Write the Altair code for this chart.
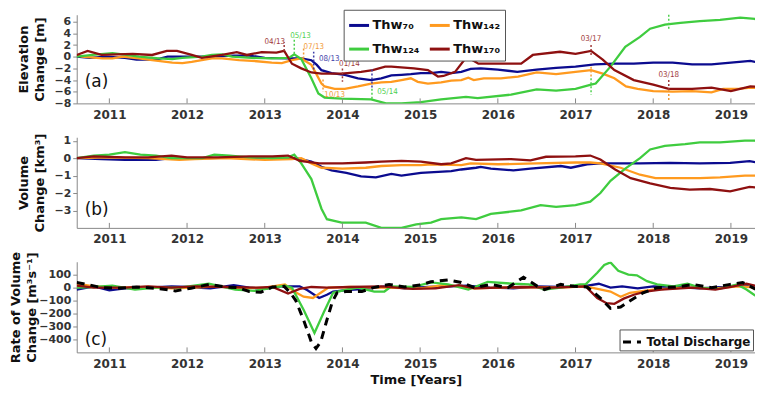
import altair as alt
import pandas as pd

SERIES = ["Thw₇₀", "Thw₁₂₄", "Thw₁₄₂", "Thw₁₇₀"]
COLORS = ["#0b0b8f", "#3fcc3f", "#ff9a1f", "#8e1010"]
ANN_COLORS = ["#3c3ca8", "#4fd04f", "#f29a35", "#a03a3a"]
YEARS = [2011, 2012, 2013, 2014, 2015, 2016, 2017, 2018, 2019]
XDOM = [2010.58, 2019.31]
FONT = "DejaVu Sans"

# ---------------- panel (a): elevation change [m] ----------------
a70_t = [2010.58, 2010.75, 2010.95, 2011.2, 2011.35, 2011.6, 2011.75, 2012.0, 2012.3, 2012.6, 2012.8, 2013.0, 2013.3, 2013.47, 2013.6, 2013.67, 2013.73, 2013.86, 2014.03, 2014.2, 2014.37, 2014.5, 2014.63, 2014.76, 2014.88, 2015.01, 2015.14, 2015.27, 2015.4, 2015.53, 2015.65, 2015.78, 2016.0, 2016.25, 2016.5, 2016.75, 2017.0, 2017.25, 2017.5, 2017.75, 2018.0, 2018.25, 2018.5, 2018.75, 2019.0, 2019.25, 2019.41]
a70_v = [0.0, -0.2, 0.0, -0.2, -0.5, -0.5, 0.0, 0.0, 0.0, 0.2, 0.2, -0.2, -0.3, -0.3, -0.6, -1.4, -2.3, -2.8, -3.1, -3.7, -4.0, -3.7, -3.2, -3.1, -3.0, -2.8, -2.8, -2.6, -2.8, -2.6, -2.1, -2.0, -2.2, -2.6, -2.2, -1.9, -1.7, -1.3, -1.2, -1.2, -1.0, -1.0, -1.3, -1.3, -1.0, -0.7, -1.2]

a142_t = [2010.58, 2010.65, 2010.91, 2011.04, 2011.17, 2011.38, 2011.55, 2011.81, 2011.94, 2012.06, 2012.32, 2012.45, 2012.67, 2012.83, 2013.09, 2013.22, 2013.35, 2013.47, 2013.6, 2013.73, 2013.77, 2013.9, 2014.03, 2014.2, 2014.37, 2014.5, 2014.63, 2014.76, 2014.88, 2014.97, 2015.1, 2015.27, 2015.4, 2015.53, 2015.62, 2015.69, 2015.82, 2016.04, 2016.26, 2016.5, 2016.75, 2017.0, 2017.2, 2017.35, 2017.5, 2017.65, 2017.8, 2018.0, 2018.25, 2018.5, 2018.75, 2018.9, 2019.1, 2019.25, 2019.41]
a142_v = [0.3, 0.0, -0.3, -0.3, 0.0, -0.3, -0.6, -1.0, -1.1, -0.9, -0.3, -0.3, -0.6, -0.7, -1.0, -1.1, -0.6, -0.3, -1.4, -4.6, -5.1, -5.5, -5.5, -5.1, -4.6, -4.4, -4.3, -4.0, -3.7, -4.3, -4.6, -4.4, -4.1, -4.0, -3.6, -4.0, -3.7, -3.7, -3.4, -2.7, -3.0, -2.6, -2.3, -2.9, -3.7, -5.1, -5.5, -5.9, -6.0, -5.9, -6.1, -5.5, -5.5, -5.3, -5.4]

a124_t = [2010.58, 2010.78, 2011.04, 2011.17, 2011.38, 2011.64, 2011.81, 2011.94, 2012.19, 2012.32, 2012.45, 2012.58, 2012.83, 2013.09, 2013.31, 2013.38, 2013.47, 2013.6, 2013.69, 2013.77, 2013.99, 2014.37, 2014.56, 2014.76, 2015.01, 2015.27, 2015.59, 2015.74, 2016.17, 2016.5, 2016.75, 2017.0, 2017.2, 2017.26, 2017.45, 2017.64, 2017.83, 2017.96, 2018.15, 2018.35, 2018.6, 2018.86, 2019.12, 2019.31, 2019.41]
a124_v = [0.0, 0.3, 0.6, 0.4, 0.0, -0.3, -0.4, -0.2, 0.0, 0.3, 0.4, 0.0, -0.2, -0.3, -0.2, 0.4, -0.4, -3.7, -6.3, -7.0, -7.2, -7.3, -8.0, -8.0, -7.8, -7.3, -6.9, -7.1, -6.5, -5.6, -5.8, -5.5, -4.8, -4.6, -1.7, 1.7, 3.4, 4.8, 5.5, 5.8, 6.1, 6.3, 6.7, 6.5, 5.1]

a170_t = [2010.58, 2010.72, 2010.9, 2011.3, 2011.55, 2011.74, 2011.87, 2012.06, 2012.19, 2012.45, 2012.64, 2012.77, 2012.96, 2013.15, 2013.25, 2013.35, 2013.47, 2013.6, 2013.73, 2013.99, 2014.24, 2014.39, 2014.55, 2014.63, 2014.92, 2015.1, 2015.23, 2015.3, 2015.45, 2015.6, 2015.75, 2016.0, 2016.3, 2016.45, 2016.8, 2017.0, 2017.2, 2017.35, 2017.5, 2017.75, 2018.0, 2018.2, 2018.5, 2018.75, 2019.0, 2019.25, 2019.41]
a170_v = [0.3, 1.0, 0.3, 0.5, 0.3, 1.0, 1.0, 0.3, -0.2, 0.3, 0.8, 0.3, 0.8, 0.7, 1.0, -1.2, -2.0, -2.7, -2.9, -2.9, -2.6, -2.3, -1.7, -1.7, -2.0, -2.3, -3.4, -3.3, -2.6, 0.0, -1.2, -1.2, -1.2, 0.3, 0.85, 0.5, 1.0, -0.5, -2.3, -4.0, -4.8, -5.5, -5.5, -5.3, -5.9, -5.1, -5.2]

# ---------------- panel (b): volume change [km3] ----------------
b70_t = [2010.58, 2010.9, 2011.2, 2011.6, 2011.8, 2012.3, 2012.7, 2013.0, 2013.4, 2013.6, 2013.73, 2013.86, 2014.05, 2014.24, 2014.43, 2014.63, 2014.76, 2015.01, 2015.4, 2015.53, 2015.72, 2015.78, 2015.91, 2016.2, 2016.42, 2016.81, 2016.94, 2017.15, 2017.32, 2017.83, 2018.22, 2018.6, 2018.99, 2019.24, 2019.41]
b70_v = [0.0, -0.05, -0.1, -0.1, 0.0, 0.0, 0.05, 0.0, 0.0, -0.2, -0.5, -0.7, -0.85, -1.05, -1.1, -0.9, -1.0, -0.85, -0.75, -0.65, -0.55, -0.5, -0.6, -0.7, -0.6, -0.45, -0.55, -0.35, -0.3, -0.3, -0.27, -0.3, -0.27, -0.17, -0.3]

b142_t = [2010.58, 2011.0, 2011.5, 2011.9, 2012.1, 2012.5, 2013.0, 2013.35, 2013.47, 2013.6, 2013.73, 2014.0, 2014.3, 2014.5, 2014.76, 2015.01, 2015.14, 2015.53, 2015.65, 2016.0, 2016.5, 2017.0, 2017.19, 2017.32, 2017.58, 2017.83, 2018.03, 2018.35, 2018.6, 2018.86, 2019.18, 2019.41]
b142_v = [0.0, 0.05, 0.0, -0.1, -0.05, 0.0, -0.1, -0.05, 0.0, -0.3, -0.55, -0.6, -0.55, -0.45, -0.4, -0.4, -0.35, -0.4, -0.3, -0.35, -0.3, -0.25, -0.25, -0.3, -0.55, -0.95, -1.15, -1.15, -1.15, -1.1, -1.0, -1.0]

b124_t = [2010.58, 2010.8, 2011.0, 2011.2, 2011.4, 2011.6, 2011.8, 2012.2, 2012.35, 2012.55, 2012.8, 2013.1, 2013.3, 2013.38, 2013.47, 2013.6, 2013.73, 2013.8, 2013.99, 2014.3, 2014.5, 2014.76, 2014.95, 2015.14, 2015.27, 2015.53, 2015.72, 2015.91, 2016.3, 2016.55, 2016.75, 2017.0, 2017.19, 2017.32, 2017.45, 2017.64, 2017.83, 2017.96, 2018.15, 2018.41, 2018.6, 2018.86, 2019.18, 2019.31, 2019.41]
b124_v = [0.0, 0.15, 0.2, 0.35, 0.2, 0.15, 0.0, 0.0, 0.2, 0.15, 0.05, 0.0, 0.05, 0.2, -0.3, -1.2, -2.9, -3.5, -3.7, -3.7, -4.0, -4.0, -3.8, -3.7, -3.5, -3.4, -3.5, -3.2, -3.0, -2.7, -2.8, -2.7, -2.5, -2.0, -1.3, -0.6, 0.0, 0.5, 0.7, 0.8, 0.9, 0.9, 1.0, 1.0, 0.8]

b170_t = [2010.58, 2010.8, 2011.2, 2011.5, 2011.8, 2012.0, 2012.4, 2012.8, 2013.1, 2013.3, 2013.45, 2013.7, 2014.0, 2014.3, 2014.5, 2014.76, 2015.01, 2015.27, 2015.4, 2015.59, 2015.72, 2016.17, 2016.42, 2016.62, 2017.0, 2017.19, 2017.32, 2017.51, 2017.71, 2017.96, 2018.22, 2018.47, 2018.73, 2018.99, 2019.24, 2019.41]
b170_v = [0.0, 0.1, 0.05, 0.05, 0.15, 0.05, 0.05, 0.1, 0.1, 0.15, -0.15, -0.3, -0.3, -0.25, -0.2, -0.15, -0.2, -0.35, -0.3, 0.0, -0.1, -0.05, -0.13, 0.08, 0.1, 0.15, -0.08, -0.65, -1.15, -1.45, -1.7, -1.8, -1.77, -1.9, -1.65, -1.7]

# ---------------- panel (c): rate of volume change [m3/s] ----------------
c70_t = [2010.58, 2010.8, 2011.0, 2011.2, 2011.5, 2011.8, 2012.0, 2012.3, 2012.6, 2012.8, 2013.0, 2013.2, 2013.45, 2013.55, 2013.7, 2013.8, 2013.88, 2014.05, 2014.3, 2014.55, 2014.8, 2015.1, 2015.4, 2015.6, 2015.9, 2016.2, 2016.5, 2016.8, 2017.1, 2017.3, 2017.45, 2017.6, 2017.8, 2018.0, 2018.3, 2018.6, 2018.9, 2019.15, 2019.3, 2019.41]
c70_v = [-15, 10, -20, -5, 0, 10, 5, -5, 20, 0, -10, 10, 10, -20, -80, -55, -30, -20, -10, 10, -5, 5, 10, 15, 0, -5, 10, 5, 10, 30, 0, 10, -5, 10, 5, -5, 5, 20, 0, -15]

c142_t = [2010.58, 2010.8, 2011.1, 2011.5, 2011.8, 2012.1, 2012.4, 2012.7, 2013.0, 2013.26, 2013.38, 2013.5, 2013.62, 2013.72, 2013.82, 2014.1, 2014.5, 2015.0, 2015.3, 2015.5, 2015.7, 2016.0, 2016.4, 2016.8, 2017.13, 2017.45, 2017.58, 2017.7, 2018.0, 2018.4, 2018.8, 2019.1, 2019.25, 2019.41]
c142_v = [30, 10, 0, 5, -5, 0, 10, -5, 0, 25, -30, -70, -80, -40, 0, 5, 0, -5, 20, 10, -5, 0, 5, 0, 10, -30, -70, -40, -15, 0, -5, 10, 5, -30]

c124_t = [2010.58, 2010.8, 2011.04, 2011.33, 2011.6, 2011.9, 2012.28, 2012.62, 2012.87, 2013.26, 2013.35, 2013.5, 2013.64, 2013.76, 2013.88, 2014.05, 2014.2, 2014.41, 2014.54, 2014.63, 2014.9, 2015.14, 2015.36, 2015.62, 2015.87, 2016.2, 2016.4, 2016.6, 2016.81, 2017.06, 2017.13, 2017.28, 2017.37, 2017.45, 2017.55, 2017.68, 2017.79, 2017.92, 2018.05, 2018.26, 2018.44, 2018.6, 2018.85, 2019.08, 2019.2, 2019.31, 2019.41]
c124_v = [0, 5, 15, -15, 0, 0, 30, -15, -25, 15, 0, -170, -350, -190, -40, -15, 0, -30, -30, 10, 5, 40, 25, -15, 45, 30, 25, -15, 0, 25, 25, 115, 175, 195, 130, 100, 95, 50, 25, 10, 30, 0, -10, 25, -15, -60, -70]

c170_t = [2010.58, 2010.8, 2011.2, 2011.5, 2011.8, 2012.1, 2012.5, 2012.9, 2013.1, 2013.3, 2013.45, 2013.6, 2013.8, 2014.1, 2014.5, 2014.9, 2015.2, 2015.5, 2015.7, 2016.0, 2016.3, 2016.7, 2017.13, 2017.28, 2017.4, 2017.5, 2017.62, 2017.75, 2017.9, 2018.1, 2018.5, 2018.8, 2019.0, 2019.2, 2019.41]
c170_v = [15, 0, 0, 10, 0, 10, 5, 0, 5, -45, -10, 5, 0, 5, 10, -10, -5, 20, -5, 0, 5, 0, 10, -80, -120, -125, -85, -55, -30, -15, 0, -15, 5, 30, 0]

dis_t = [2010.58, 2010.75, 2010.9, 2011.1, 2011.35, 2011.6, 2011.85, 2012.05, 2012.28, 2012.5, 2012.65, 2012.8, 2012.95, 2013.1, 2013.25, 2013.33, 2013.4, 2013.5, 2013.6, 2013.66, 2013.72, 2013.8, 2013.87, 2013.93, 2014.05, 2014.25, 2014.4, 2014.6, 2014.8, 2015.0, 2015.14, 2015.36, 2015.53, 2015.7, 2015.91, 2016.13, 2016.33, 2016.51, 2016.6, 2016.81, 2016.98, 2017.15, 2017.32, 2017.45, 2017.58, 2017.68, 2017.87, 2018.05, 2018.3, 2018.51, 2018.75, 2018.99, 2019.15, 2019.28, 2019.41]
dis_v = [40, 20, 0, -5, 5, -5, -25, -5, 25, 5, 0, -30, -35, 5, 10, -40, -100, -250, -420, -470, -420, -250, -110, -40, -30, -30, 0, 25, 5, 20, 45, 60, 40, 0, 25, 0, 80, 10, -15, 25, 10, 5, -80, -160, -150, -110, -40, 0, 5, 25, 0, 25, 40, 0, -40]
DIS_NAME = ["Total Discharge"]

# ---------------- annotations on panel (a) ----------------
seg_t = [2013.25, 2013.38, 2013.5, 2013.63, 2014.0, 2013.75, 2014.38, 2014.38, 2017.2, 2017.2, 2017.2, 2018.2, 2018.2, 2018.2]
seg_v1 = [1.0, 0.5, -0.3, -2.2, -2.0, -3.9, -2.2, -5.5, 2.0, -1.7, -3.7, -4.0, -5.7, 4.8]
seg_v2 = [2.5, 3.3, 1.5, 0.85, -4.3, -6.0, -5.3, -7.5, 0.0, -3.4, -6.5, -5.7, -7.7, 7.2]
seg_s = ["Thw₁₇₀", "Thw₁₂₄", "Thw₁₄₂", "Thw₇₀", "Thw₁₇₀", "Thw₁₄₂", "Thw₇₀", "Thw₁₂₄", "Thw₁₇₀", "Thw₁₄₂", "Thw₁₂₄", "Thw₁₇₀", "Thw₁₄₂", "Thw₁₂₄"]

lab_text = ["04/13", "05/13", "07/13", "08/13", "01/14", "10/13", "05/14", "03/17", "03/18"]
lab_t = [2013.13, 2013.46, 2013.63, 2013.83, 2014.09, 2013.9, 2014.58, 2017.2, 2018.2]
lab_v = [2.56, 3.6, 1.7, -0.34, -1.2, -6.5, -6.1, 3.1, -3.1]
lab_s = ["Thw₁₇₀", "Thw₁₂₄", "Thw₁₄₂", "Thw₇₀", "Thw₁₇₀", "Thw₁₄₂", "Thw₁₂₄", "Thw₁₇₀", "Thw₁₇₀"]

PANEL_LABELS = ["(a)", "(b)", "(c)"]


def long_df(pairs):
    rows = []
    for name, ts, vs in pairs:
        for t, v in zip(ts, vs):
            rows.append({"series": name, "year": t, "value": v})
    return pd.DataFrame(rows)


df_a = long_df([("Thw₇₀", a70_t, a70_v), ("Thw₁₄₂", a142_t, a142_v), ("Thw₁₂₄", a124_t, a124_v), ("Thw₁₇₀", a170_t, a170_v)])
df_b = long_df([("Thw₇₀", b70_t, b70_v), ("Thw₁₄₂", b142_t, b142_v), ("Thw₁₂₄", b124_t, b124_v), ("Thw₁₇₀", b170_t, b170_v)])
df_c = long_df([("Thw₇₀", c70_t, c70_v), ("Thw₁₄₂", c142_t, c142_v), ("Thw₁₂₄", c124_t, c124_v), ("Thw₁₇₀", c170_t, c170_v)])
df_dis = pd.DataFrame({"year": dis_t, "value": dis_v, "name": DIS_NAME * len(dis_t)})
df_seg = pd.DataFrame({"year": seg_t, "v1": seg_v1, "v2": seg_v2, "series": seg_s})
df_lab = pd.DataFrame({"year": lab_t, "value": lab_v, "text": lab_text, "series": lab_s})
df_ticks = pd.DataFrame({"year": YEARS})

W = 681
H_A, H_B, H_C = 89, 91, 91
XSCALE = alt.Scale(domain=XDOM, nice=False, zero=False)


def xaxis(title=None):
    return alt.Axis(values=YEARS, format="d", ticks=False, labelPadding=6, title=title, titlePadding=4)


def yaxis(ticks, title, title_x, height):
    return alt.Axis(values=ticks, title=title, titleX=title_x, titleY=height / 2,
                    tickSize=4, labelPadding=2, labelOverlap=False, labelFontSize=11)


XA = xaxis()
XC = xaxis("Time [Years]")
YA = yaxis([6, 4, 2, 0, -2, -4, -6, -8], ["Elevation", "Change [m]"], -46, H_A)
YB = yaxis([1, 0, -1, -2, -3], ["Volume", "Change [km³]"], -46, H_B)
YC = yaxis([100, 0, -100, -200, -300, -400], ["Rate of Volume", "Change [m³s⁻¹]"], -54, H_C)
YSA = alt.Scale(domain=[-8, 7.2], nice=False, zero=False)
YSB = alt.Scale(domain=[-4, 1.2], nice=False, zero=False)
YSC = alt.Scale(domain=[-500, 200], nice=False, zero=False)


def panel(df, xax, yax, ysc, height, label, label_y, legend, extra):
    lines = alt.Chart(df).mark_line(strokeWidth=2.3, clip=True).encode(
        x=alt.X("year:Q", scale=XSCALE, axis=xax),
        y=alt.Y("value:Q", scale=ysc, axis=yax),
        color=alt.Color("series:N", scale=alt.Scale(domain=SERIES, range=COLORS), legend=legend),
    )
    ticks = alt.Chart(df_ticks).mark_rule(color="#888888", strokeWidth=1).encode(
        x=alt.X("year:Q", scale=XSCALE, axis=xax), y=alt.value(height), y2=alt.value(height - 5))
    lab = alt.Chart(pd.DataFrame({"t": [label]})).mark_text(
        font=FONT, fontSize=17, align="left", baseline="middle", color="#111111").encode(
        x=alt.value(8), y=alt.value(label_y), text="t:N")
    return alt.layer(lines, *extra, ticks, lab).properties(width=W, height=height)


legend_a = alt.Legend(orient="none", legendX=268, legendY=-5, columns=2, title=None,
                      symbolType="stroke", symbolStrokeWidth=3, symbolSize=400,
                      labelFont=FONT, labelFontWeight="bold", labelFontSize=13, labelColor="#111111",
                      fillColor="white", strokeColor="#555555", padding=4,
                      columnPadding=3, rowPadding=5, labelOffset=2)

seg_layer = alt.Chart(df_seg).mark_rule(strokeDash=[2, 2], strokeWidth=1.5).encode(
    x=alt.X("year:Q", scale=XSCALE, axis=XA), y=alt.Y("v1:Q", scale=YSA, axis=YA), y2="v2:Q",
    stroke=alt.Stroke("series:N", scale=alt.Scale(domain=SERIES, range=ANN_COLORS), legend=None))
lab_layer = alt.Chart(df_lab).mark_text(font="DejaVu Sans Condensed", fontSize=8, align="center",
                                        baseline="middle").encode(
    x=alt.X("year:Q", scale=XSCALE, axis=XA), y=alt.Y("value:Q", scale=YSA, axis=YA), text="text:N",
    fill=alt.Fill("series:N", scale=alt.Scale(domain=SERIES, range=ANN_COLORS), legend=None))

pa = panel(df_a, XA, YA, YSA, H_A, PANEL_LABELS[0], 68, legend_a, [seg_layer, lab_layer])
pb = panel(df_b, XA, YB, YSB, H_B, PANEL_LABELS[1], 73, None, [])

dis_layer = alt.Chart(df_dis).mark_line(strokeWidth=3, color="black", clip=True).encode(
    x=alt.X("year:Q", scale=XSCALE, axis=XC), y=alt.Y("value:Q", scale=YSC, axis=YC),
    strokeDash=alt.StrokeDash("name:N", scale=alt.Scale(domain=DIS_NAME, range=[[8, 6]]),
                              legend=alt.Legend(orient="none", legendX=545, legendY=68, title=None,
                                                symbolType="stroke", symbolStrokeColor="black",
                                                symbolStrokeWidth=3, symbolSize=324,
                                                labelFont=FONT, labelFontWeight="bold", labelFontSize=12,
                                                labelColor="#111111", fillColor="white",
                                                strokeColor="#555555", padding=2, labelOffset=4)))

pc = panel(df_c, XC, YC, YSC, H_C, PANEL_LABELS[2], 79, None, [dis_layer])

chart = alt.vconcat(pa, pb, pc, spacing=34, bounds="flush").resolve_scale(
    color="independent", stroke="independent", fill="independent", strokeDash="independent"
).properties(padding={"left": 2, "top": 0, "right": 0, "bottom": 0}).configure_view(
    stroke=None
).configure_axis(
    grid=False, domainColor="#888888", tickColor="#888888", labelFont=FONT, labelFontWeight="bold",
    labelFontSize=12, labelColor="#333333", titleFont=FONT, titleFontWeight="bold", titleFontSize=13,
    titleColor="#111111", titleLineHeight=16, labelOverlap=False
)

chart.save("out.html", embed_options={"renderer": "svg", "actions": False})
